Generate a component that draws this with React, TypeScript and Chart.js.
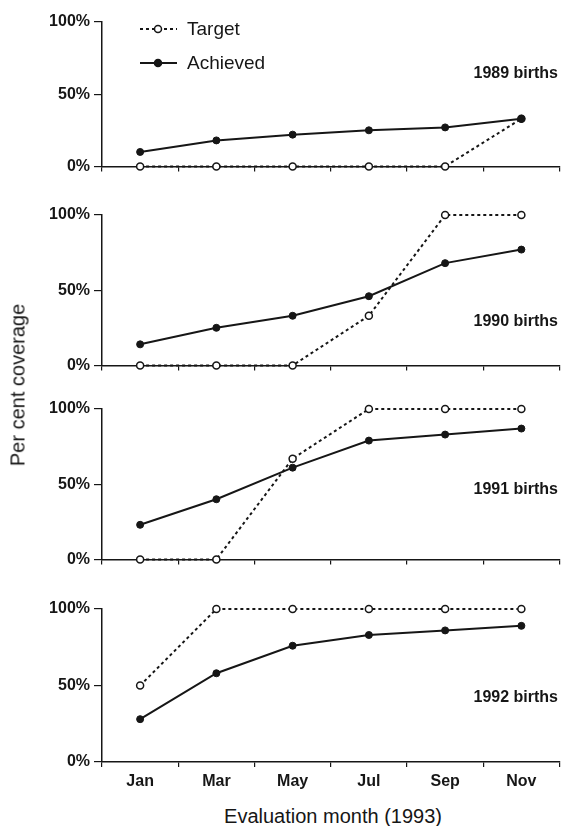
import React, { useEffect, useRef } from 'react';
import { Chart, registerables } from 'chart.js';

Chart.register(...registerables);

const FONT = '"Liberation Sans", Arial, Helvetica, sans-serif';
const INK = '#161616';

// ---- data ----
const months = ['Jan', 'Mar', 'May', 'Jul', 'Sep', 'Nov'];
const yTickValues = [0, 50, 100];
const seriesNames = ['Target', 'Achieved'];
const panelLabels = ['1989 births', '1990 births', '1991 births', '1992 births'];

const target1989 = [0, 0, 0, 0, 0, 33];
const achieved1989 = [10, 18, 22, 25, 27, 33];
const target1990 = [0, 0, 0, 33, 100, 100];
const achieved1990 = [14, 25, 33, 46, 68, 77];
const target1991 = [0, 0, 67, 100, 100, 100];
const achieved1991 = [23, 40, 61, 79, 83, 87];
const target1992 = [50, 100, 100, 100, 100, 100];
const achieved1992 = [28, 58, 76, 83, 86, 89];

const xTitle = 'Evaluation month (1993)';
const yTitle = 'Per cent coverage';

// ---- layout ----
const W = 565;
const LEFT = 102;
const RIGHT = 560;
const PAD_TOP = 14;

const panels = [
  { label: panelLabels[0], target: target1989, achieved: achieved1989, top: 22, bottom: 170, labelY: 74 },
  { label: panelLabels[1], target: target1990, achieved: achieved1990, top: 215, bottom: 369, labelY: 322 },
  { label: panelLabels[2], target: target1991, achieved: achieved1991, top: 409, bottom: 563, labelY: 490 },
  { label: panelLabels[3], target: target1992, achieved: achieved1992, top: 609, bottom: 762, labelY: 698 },
];

function makeLegendPlugin(canvasTop: number) {
  return {
    id: 'customLegend',
    afterDraw(chart: any) {
      const ctx = chart.ctx as CanvasRenderingContext2D;
      const rows = [
        { name: seriesNames[0], y: 29 - canvasTop, dashed: true },
        { name: seriesNames[1], y: 63 - canvasTop, dashed: false },
      ];
      ctx.save();
      for (const r of rows) {
        ctx.strokeStyle = INK;
        ctx.lineWidth = 2;
        ctx.setLineDash(r.dashed ? [3, 3] : []);
        ctx.beginPath();
        ctx.moveTo(140, r.y);
        ctx.lineTo(177, r.y);
        ctx.stroke();
        ctx.setLineDash([]);
        ctx.beginPath();
        ctx.arc(158, r.y, 3.5, 0, Math.PI * 2);
        ctx.fillStyle = r.dashed ? '#ffffff' : INK;
        ctx.fill();
        ctx.lineWidth = 1.5;
        ctx.stroke();
        ctx.fillStyle = INK;
        ctx.font = `19px ${FONT}`;
        ctx.textBaseline = 'middle';
        ctx.textAlign = 'left';
        ctx.fillText(r.name, 187, r.y + 1);
      }
      ctx.restore();
    },
  };
}

type PanelDef = (typeof panels)[number];

function Panel({ p, last, legend }: { p: PanelDef; last: boolean; legend: boolean }) {
  const ref = useRef<HTMLCanvasElement>(null);
  const axisH = last ? 32 : 10;
  const canvasTop = p.top - PAD_TOP;
  const h = p.bottom - p.top + PAD_TOP + axisH;

  useEffect(() => {
    const chart = new Chart(ref.current as HTMLCanvasElement, {
      type: 'line',
      data: {
        labels: months,
        datasets: [
          {
            label: seriesNames[1],
            data: p.achieved,
            borderColor: INK,
            borderWidth: 2,
            pointRadius: 3.5,
            pointBackgroundColor: INK,
            pointBorderColor: INK,
            pointBorderWidth: 1,
            tension: 0,
            clip: false as any,
          },
          {
            label: seriesNames[0],
            data: p.target,
            borderColor: INK,
            borderWidth: 2,
            borderDash: [3, 3],
            pointRadius: 3.5,
            pointBackgroundColor: '#ffffff',
            pointBorderColor: INK,
            pointBorderWidth: 1.5,
            tension: 0,
            clip: false as any,
          },
        ],
      },
      options: {
        responsive: false,
        animation: false,
        devicePixelRatio: 1,
        layout: { padding: { left: 0, right: W - RIGHT, top: PAD_TOP, bottom: 0 } },
        plugins: { legend: { display: false }, tooltip: { enabled: false } },
        scales: {
          x: {
            type: 'category',
            offset: true,
            grid: { offset: true, drawOnChartArea: false, tickLength: 5, color: INK, lineWidth: 1.2 },
            border: { display: true, color: INK, width: 1.5 },
            ticks: {
              display: last,
              color: INK,
              padding: 5,
              maxRotation: 0,
              font: { family: FONT, size: 16, weight: 'bold' },
            },
            afterFit: (s: any) => {
              s.height = axisH;
            },
          },
          y: {
            min: 0,
            max: 100,
            afterBuildTicks: (s: any) => {
              s.ticks = yTickValues.map((v) => ({ value: v }));
            },
            grid: { drawOnChartArea: false, tickLength: 8, color: INK, lineWidth: 1.2 },
            border: { display: true, color: INK, width: 1.5 },
            ticks: {
              color: INK,
              padding: 4,
              font: { family: FONT, size: 16, weight: 'bold' },
              callback: (v: any) => `${v}%`,
            },
            afterFit: (s: any) => {
              s.width = LEFT;
            },
          },
        },
      } as any,
      plugins: legend ? [makeLegendPlugin(canvasTop)] : [],
    });
    return () => chart.destroy();
  }, []);

  return (
    <>
      <canvas
        ref={ref}
        width={W}
        height={h}
        style={{ position: 'absolute', left: 0, top: canvasTop, width: W, height: h }}
      />
      <div
        style={{
          position: 'absolute',
          right: W - 558,
          top: p.labelY - 10,
          height: 20,
          lineHeight: '20px',
          font: `bold 16px ${FONT}`,
          color: INK,
          whiteSpace: 'nowrap',
        }}
      >
        {p.label}
      </div>
    </>
  );
}

export default function App() {
  return (
    <div
      style={{
        position: 'absolute',
        left: 0,
        top: 0,
        width: W,
        height: 826,
        background: '#ffffff',
        overflow: 'hidden',
      }}
    >
      {panels.map((p, i) => (
        <Panel key={i} p={p} last={i === panels.length - 1} legend={i === 0} />
      ))}
      <div
        style={{
          position: 'absolute',
          left: 18,
          top: 385,
          transform: 'translate(-50%, -50%) rotate(-90deg)',
          font: `20px ${FONT}`,
          color: INK,
          whiteSpace: 'nowrap',
        }}
      >
        {yTitle}
      </div>
      <div
        style={{
          position: 'absolute',
          left: 333,
          top: 816,
          transform: 'translate(-50%, -50%)',
          font: `20px ${FONT}`,
          color: INK,
          whiteSpace: 'nowrap',
        }}
      >
        {xTitle}
      </div>
    </div>
  );
}
